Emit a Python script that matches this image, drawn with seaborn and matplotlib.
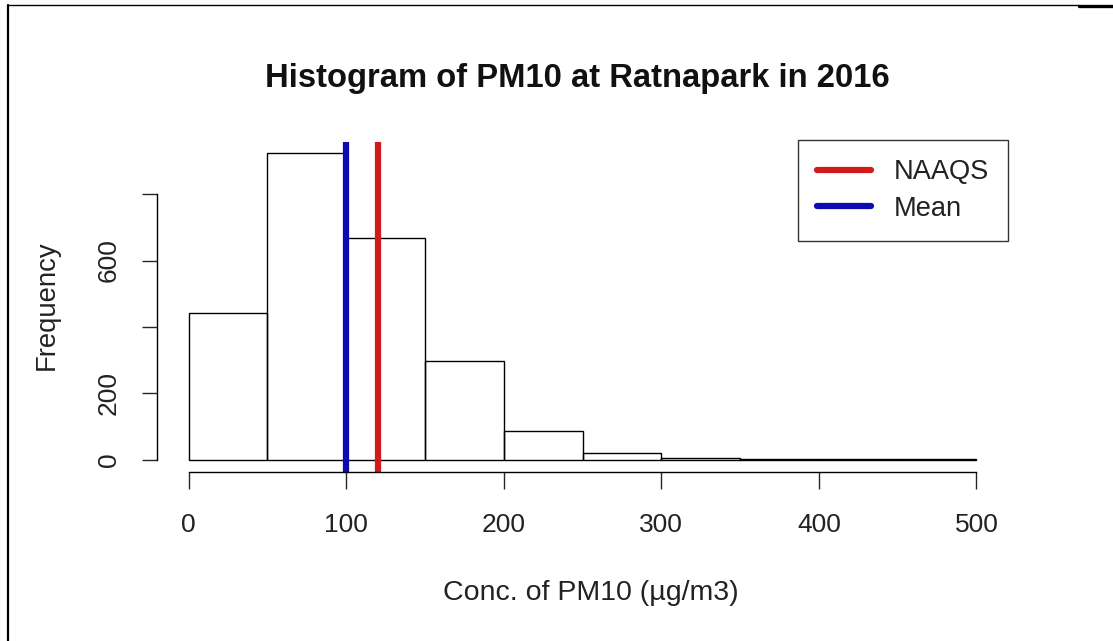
import numpy as np
import pandas as pd
import matplotlib
matplotlib.use("Agg")
import matplotlib.pyplot as plt
import seaborn as sns
from matplotlib.lines import Line2D

# --------------------------
# DATA
# --------------------------
bin_edges = [0, 50, 100, 150, 200, 250, 300, 350, 400, 450, 500]
bin_counts = [443, 925, 668, 297, 85, 20, 4, 1, 1, 1]
mean_value = 100
naaqs_value = 120

x_ticks = [0, 100, 200, 300, 400, 500]
y_ticks = [0, 200, 400, 600, 800]
y_tick_labels = ["0", "200", "", "600", ""]

title = "Histogram of PM10 at Ratnapark in 2016"
x_label = "Conc. of PM10 (µg/m3)"
y_label = "Frequency"
legend_labels = ["NAAQS", "Mean"]

RED = "#d11a1a"
BLUE = "#0b0bb0"
TXT = "#222222"

# --------------------------
# PLOT
# --------------------------
sns.set_style("white")
plt.rcParams["font.family"] = ["Liberation Sans", "DejaVu Sans"]

fig = plt.figure(figsize=(11.13, 6.41), dpi=100)
ax = fig.add_axes([157 / 1113, 1 - 472 / 641, (1008 - 157) / 1113, (472 - 142) / 641])

centers = [(a + b) / 2 for a, b in zip(bin_edges[:-1], bin_edges[1:])]
df = pd.DataFrame({"conc": centers, "n": bin_counts})
sns.histplot(data=df, x="conc", weights="n", bins=bin_edges, fill=False,
             color="black", linewidth=1.0, ax=ax)

ax.axvline(mean_value, color=BLUE, lw=4.5, solid_capstyle="butt")
ax.axvline(naaqs_value, color=RED, lw=4.5, solid_capstyle="butt")

ax.set_xlim(-20, 520)
ax.set_ylim(-37, 957)

for s in ["top", "right"]:
    ax.spines[s].set_visible(False)
ax.spines["left"].set_bounds(0, 800)
ax.spines["bottom"].set_bounds(0, 500)
for s in ["left", "bottom"]:
    ax.spines[s].set_color("black")
    ax.spines[s].set_linewidth(1.0)

ax.set_xticks(x_ticks)
ax.set_yticks(y_ticks)
ax.set_yticklabels(y_tick_labels, rotation=90, va="center")
ax.tick_params(axis="x", length=12, width=1.0, pad=17.5, labelsize=19,
               labelcolor=TXT, direction="out", bottom=True)
ax.tick_params(axis="y", length=11, width=1.0, pad=15, labelsize=19,
               labelcolor=TXT, direction="out", left=True)

ax.set_xlabel("")
ax.set_ylabel("")
fig.text(591 / 1113, 1 - 593 / 641, x_label, ha="center", va="center",
         fontsize=20.5, color=TXT)
fig.text(47 / 1113, 1 - 305 / 641, y_label, ha="center", va="center",
         rotation=90, fontsize=19.8, color=TXT)
fig.text(577 / 1113, 1 - 78 / 641, title, ha="center", va="center",
         fontsize=23.6, fontweight="bold", color="#111111")

handles = [Line2D([], [], color=RED, lw=4.5), Line2D([], [], color=BLUE, lw=4.5)]
leg = ax.legend(handles, legend_labels, loc="upper right",
                bbox_to_anchor=(1.0, 1.006), borderaxespad=0, fontsize=19.6,
                frameon=True, fancybox=False, handlelength=1.95,
                borderpad=0.7, labelspacing=0.4, handletextpad=0.85)
leg.get_frame().set_edgecolor("black")
leg.get_frame().set_linewidth(1.0)
for t in leg.get_texts():
    t.set_color(TXT)

# outer frame lines (left and top edge of the screenshot)
fig.add_artist(Line2D([8 / 1113, 8 / 1113], [0, 1 - 5 / 641], color="black", lw=1.6))
fig.add_artist(Line2D([8 / 1113, 1079 / 1113], [1 - 5 / 641, 1 - 5 / 641], color="black", lw=1.0))
fig.add_artist(Line2D([1079 / 1113, 1], [1 - 5.5 / 641, 1 - 5.5 / 641], color="black", lw=2.4))

fig.savefig("out.png", dpi=100)
